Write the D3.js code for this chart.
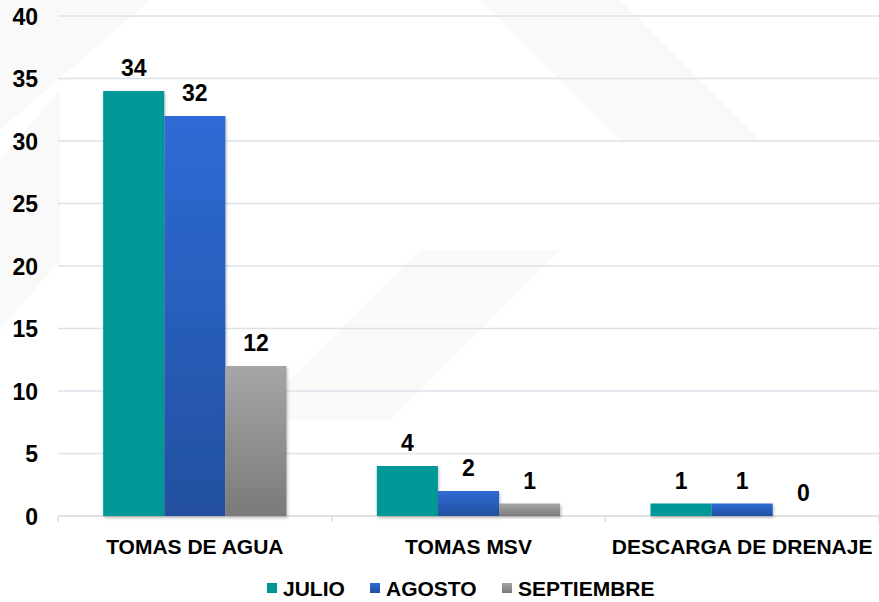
<!DOCTYPE html>
<html>
<head>
<meta charset="utf-8">
<script src="https://cdn.jsdelivr.net/npm/d3@7"></script>
<style>
  body { margin: 0; background: #fff; }
  text { font-family: "Liberation Sans", Arial, sans-serif; font-weight: bold; fill: #000; }
</style>
</head>
<body>
<div id="chart"></div>
<script>
// chart values
const categories = ['TOMAS DE AGUA', 'TOMAS MSV', 'DESCARGA DE DRENAJE'];
const months = ['JULIO', 'AGOSTO', 'SEPTIEMBRE'];
const julio = [34, 4, 1];
const agosto = [32, 2, 1];
const septiembre = [12, 1, 0];
const yTicks = [0, 5, 10, 15, 20, 25, 30, 35, 40];

const width = 879, height = 602;
const margin = { top: 16, left: 58, right: 0, bottom: 86 };

const svg = d3.select('#chart')
  .append('svg')
  .attr('width', width)
  .attr('height', height);

const defs = svg.append('defs');

// gradients for the blue and grey series
function gradient(id, top, bottom) {
  const g = defs.append('linearGradient')
    .attr('id', id)
    .attr('x1', 0).attr('y1', 0).attr('x2', 0).attr('y2', 1);
  g.append('stop').attr('offset', '0%').attr('stop-color', top);
  g.append('stop').attr('offset', '100%').attr('stop-color', bottom);
}
gradient('gBlue', '#2e6bd6', '#22509f');
gradient('gGrey', '#a6a6a6', '#7a7a7a');

defs.append('filter')
  .attr('id', 'shadow')
  .attr('x', '-20%').attr('y', '-20%').attr('width', '140%').attr('height', '140%')
  .append('feDropShadow')
    .attr('dx', 1).attr('dy', 2).attr('stdDeviation', 1.5)
    .attr('flood-color', '#000').attr('flood-opacity', 0.25);

const fills = ['#009896', 'url(#gBlue)', 'url(#gGrey)'];

// faint watermark shapes in the background
const wm = [
  [[0, 0], [150, 0], [0, 130]],
  [[0, 160], [60, 90], [60, 260], [0, 330]],
  [[250, 420], [420, 250], [560, 250], [390, 420]],
  [[480, 0], [620, 0], [760, 140], [620, 140]]
];
svg.append('g')
  .selectAll('polygon')
  .data(wm)
  .enter()
  .append('polygon')
    .attr('points', d => d.map(p => p.join(',')).join(' '))
    .attr('fill', '#f9f9f9');

const y = d3.scaleLinear()
  .domain([0, 40])
  .range([height - margin.bottom, margin.top]);

const x0 = d3.scaleBand()
  .domain(categories)
  .range([margin.left, width - margin.right])
  .paddingInner(0.33)
  .paddingOuter(0.165);

const x1 = d3.scaleBand()
  .domain(months)
  .range([0, x0.bandwidth()]);

// gridlines
svg.append('g')
  .selectAll('line')
  .data(yTicks.filter(t => t > 0))
  .enter()
  .append('line')
    .attr('x1', margin.left)
    .attr('x2', width - margin.right)
    .attr('y1', d => y(d))
    .attr('y2', d => y(d))
    .attr('stroke', '#dde1e8')
    .attr('stroke-width', 1.3);

// y axis labels
const yAxis = d3.axisLeft(y).tickValues(yTicks).tickSize(0).tickPadding(20);
svg.append('g')
  .attr('transform', `translate(${margin.left}, 0)`)
  .call(yAxis)
  .call(g => g.select('.domain').remove())
  .selectAll('text')
    .style('font-size', '23px')
    .attr('dy', '0.36em');

// x axis baseline with ticks at category boundaries
const step = x0.step();
const bounds = d3.range(categories.length + 1).map(i => margin.left + i * step);
const xAxis = svg.append('g');
xAxis.append('line')
  .attr('x1', margin.left).attr('x2', width - margin.right)
  .attr('y1', y(0)).attr('y2', y(0))
  .attr('stroke', '#d9d9d9').attr('stroke-width', 1.3);
xAxis.selectAll('.tk')
  .data(bounds)
  .enter()
  .append('line')
    .attr('class', 'tk')
    .attr('x1', d => d).attr('x2', d => d)
    .attr('y1', y(0)).attr('y2', y(0) + 6)
    .attr('stroke', '#d9d9d9').attr('stroke-width', 1.3);
xAxis.selectAll('text')
  .data(categories)
  .enter()
  .append('text')
    .attr('x', d => x0(d) + x0.bandwidth() / 2)
    .attr('y', y(0) + 38)
    .attr('text-anchor', 'middle')
    .style('font-size', '21px')
    .text(d => d);

// bars
const series = [julio, agosto, septiembre];
const rows = [];
categories.forEach((c, i) => {
  months.forEach((m, j) => {
    rows.push({ cat: c, month: m, idx: j, value: series[j][i] });
  });
});

const groups = svg.append('g');
groups.selectAll('rect')
  .data(rows.filter(d => d.value > 0))
  .enter()
  .append('rect')
    .attr('x', d => x0(d.cat) + x1(d.month))
    .attr('y', d => y(d.value))
    .attr('width', x1.bandwidth())
    .attr('height', d => y(0) - y(d.value))
    .attr('fill', d => fills[d.idx])
    .attr('filter', 'url(#shadow)');

// value labels
groups.selectAll('text')
  .data(rows)
  .enter()
  .append('text')
    .attr('x', d => x0(d.cat) + x1(d.month) + x1.bandwidth() / 2)
    .attr('y', d => y(d.value) - 15)
    .attr('text-anchor', 'middle')
    .style('font-size', '23px')
    .text(d => d.value);

// legend
const legendX = [267, 370, 502];
const legend = svg.append('g')
  .selectAll('g')
  .data(months)
  .enter()
  .append('g')
    .attr('transform', (d, i) => `translate(${legendX[i]}, 583)`);
legend.append('rect')
  .attr('width', 10).attr('height', 10)
  .attr('fill', (d, i) => fills[i]);
legend.append('text')
  .attr('x', 16)
  .attr('y', 13)
  .style('font-size', '21px')
  .text(d => d);
</script>
</body>
</html>
